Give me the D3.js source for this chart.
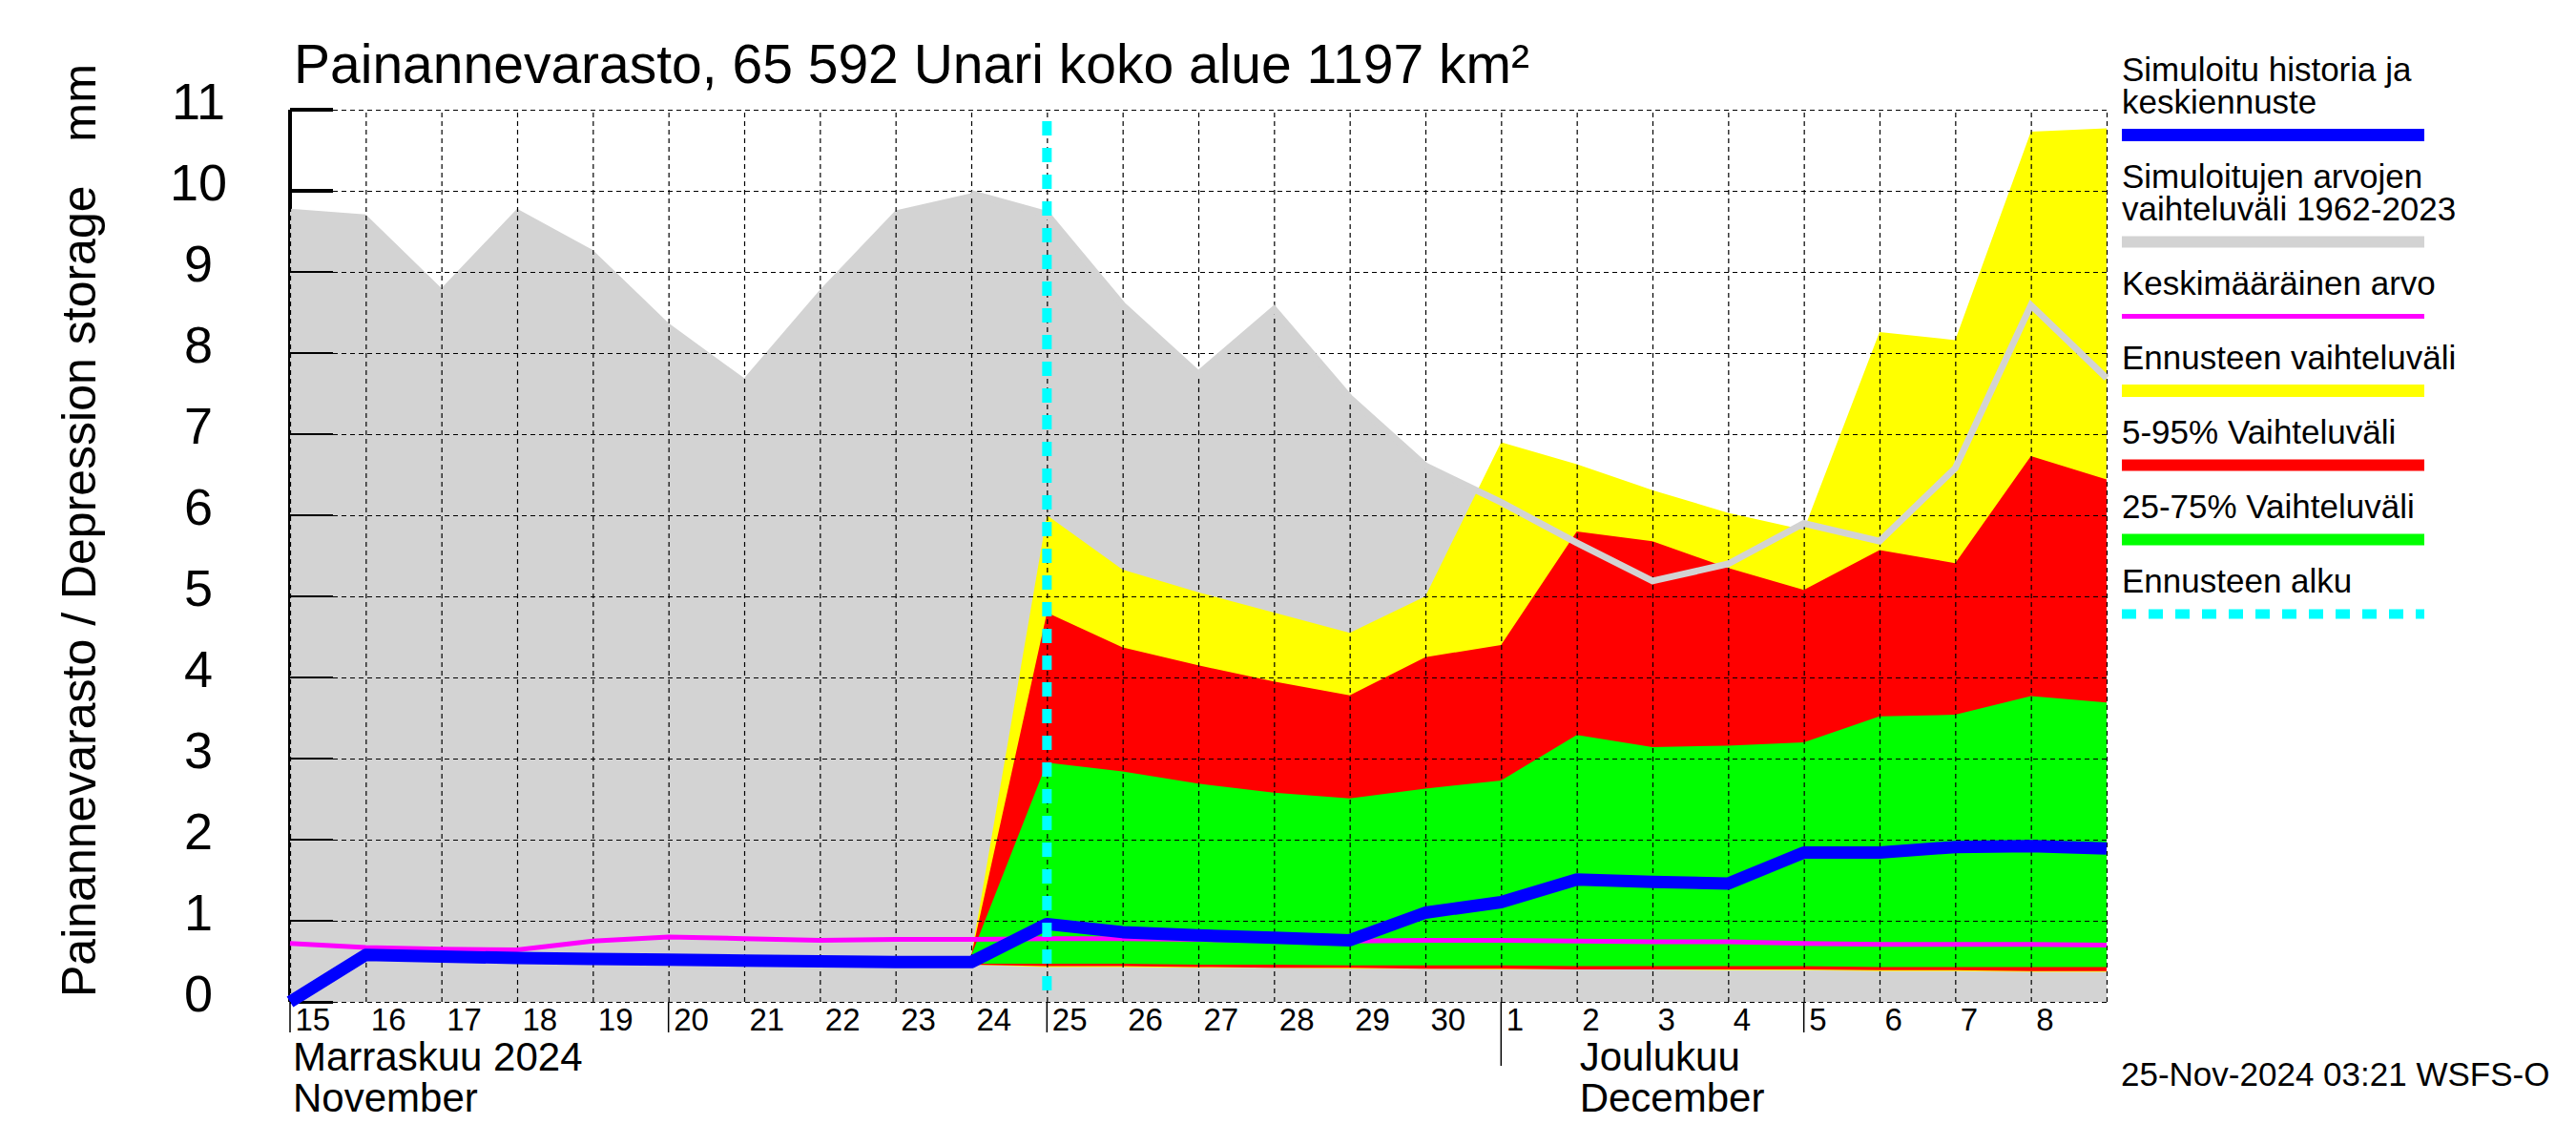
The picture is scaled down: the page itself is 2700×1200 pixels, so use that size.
<!DOCTYPE html>
<html>
<head>
<meta charset="utf-8">
<script src="https://cdn.jsdelivr.net/npm/d3@7"></script>
<style>
  body { margin: 0; background: #fff; }
  svg text { font-family: "Liberation Sans", Arial, Helvetica, sans-serif; fill: #000; }
</style>
</head>
<body>
<div id="chart"></div>
<script>
// one point per day at 00:00, 15 Nov .. 9 Dec 2024
const days = [
  '2024-11-15', '2024-11-16', '2024-11-17', '2024-11-18', '2024-11-19', '2024-11-20',
  '2024-11-21', '2024-11-22', '2024-11-23', '2024-11-24', '2024-11-25', '2024-11-26',
  '2024-11-27', '2024-11-28', '2024-11-29', '2024-11-30', '2024-12-01', '2024-12-02',
  '2024-12-03', '2024-12-04', '2024-12-05', '2024-12-06', '2024-12-07', '2024-12-08',
  '2024-12-09'
];

// simulated range 1962-2023 (grey)
const rangeMax = [9.78, 9.71, 8.80, 9.78, 9.27, 8.37, 7.69, 8.78, 9.76, 9.97, 9.71, 8.59, 7.74,
  8.54, 7.45, 6.61, 6.16, 5.66, 5.19, 5.40, 5.90, 5.68, 6.58, 8.59, 7.69];
const rangeMin = [0, 0, 0, 0, 0, 0, 0, 0, 0, 0, 0, 0, 0, 0, 0, 0, 0, 0, 0, 0, 0, 0, 0, 0, 0];

// simulated history + mean forecast (blue)
const simulated = [0.0, 0.58, 0.56, 0.54, 0.53, 0.52, 0.51, 0.50, 0.49, 0.49, 0.96, 0.86, 0.82,
  0.79, 0.76, 1.10, 1.23, 1.51, 1.48, 1.46, 1.84, 1.84, 1.91, 1.92, 1.89];

// long-term mean (magenta)
const meanValue = [0.72, 0.67, 0.65, 0.64, 0.75, 0.80, 0.78, 0.76, 0.77, 0.77, 0.78, 0.78, 0.77,
  0.76, 0.75, 0.76, 0.76, 0.75, 0.74, 0.74, 0.72, 0.71, 0.71, 0.71, 0.70];

// forecast fan, 24 Nov .. 9 Dec
const forecastStartIndex = 9;
const fcMax = [0.57, 6.00, 5.33, 5.05, 4.80, 4.55, 5.00, 6.90, 6.63, 6.31, 6.03, 5.82, 8.26, 8.16, 10.73, 10.77];
const fcMin = [0.46, 0.43, 0.43, 0.42, 0.42, 0.41, 0.41, 0.40, 0.40, 0.40, 0.39, 0.39, 0.38, 0.38, 0.37, 0.37];
const fc95 = [0.57, 4.80, 4.37, 4.15, 3.95, 3.78, 4.25, 4.40, 5.80, 5.68, 5.35, 5.08, 5.57, 5.41, 6.73, 6.44];
const fc05 = [0.46, 0.44, 0.44, 0.43, 0.42, 0.42, 0.41, 0.41, 0.40, 0.40, 0.40, 0.40, 0.39, 0.39, 0.38, 0.38];
const fc75 = [0.57, 2.95, 2.84, 2.69, 2.58, 2.51, 2.63, 2.73, 3.29, 3.14, 3.16, 3.20, 3.52, 3.54, 3.77, 3.69];
const fc25 = [0.47, 0.47, 0.47, 0.46, 0.46, 0.45, 0.45, 0.45, 0.44, 0.44, 0.44, 0.44, 0.43, 0.43, 0.43, 0.43];

const forecastStart = '2024-11-25';

const yTicks = [0, 1, 2, 3, 4, 5, 6, 7, 8, 9, 10, 11];
const dayLabelDays = days.slice(0, 24);
const midTickDays = ['2024-11-15', '2024-11-20', '2024-11-25', '2024-12-05'];
const monthStartDays = ['2024-12-01'];
const monthLabels = [
  { day: '2024-11-15', lines: ['Marraskuu 2024', 'November'] },
  { day: '2024-12-02', lines: ['Joulukuu', 'December'] }
];

const legendLabels = [
  ['Simuloitu historia ja', 'keskiennuste'],
  ['Simuloitujen arvojen', 'vaihteluväli 1962-2023'],
  ['Keskimääräinen arvo'],
  ['Ennusteen vaihteluväli'],
  ['5-95% Vaihteluväli'],
  ['25-75% Vaihteluväli'],
  ['Ennusteen alku']
];
const legendColors = ['#0000ff', '#d3d3d3', '#ff00ff', '#ffff00', '#ff0000', '#00ff00', '#00ffff'];
const legendWidths = [13, 12, 5, 13, 12, 12, 10];

const titleText = 'Painannevarasto, 65 592 Unari koko alue 1197 km²';
const yTitle = 'Painannevarasto / Depression storage';
const yUnit = 'mm';
const stamp = '25-Nov-2024 03:21 WSFS-O';

const width = 2700;
const height = 1200;
const parse = d3.utcParse('%Y-%m-%d');

const x = d3.scaleUtc()
  .domain([parse(days[0]), parse(days[days.length - 1])])
  .range([304, 2208]);
const y = d3.scaleLinear().domain([0, 11]).range([1050, 115]);

const svg = d3.select('#chart').append('svg')
  .attr('width', width)
  .attr('height', height);

svg.append('rect').attr('width', width).attr('height', height).attr('fill', '#fff');

const x0 = x.range()[0], x1 = x.range()[1];
const yTop = y(11), yBot = y(0);

// axis line and ticks, thick, partly hidden by the grey area
svg.append('line')
  .attr('x1', x0).attr('x2', x0).attr('y1', yTop).attr('y2', yBot)
  .attr('stroke', '#000').attr('stroke-width', 4);
svg.append('g').selectAll('line').data(yTicks).join('line')
  .attr('x1', x0).attr('x2', x0 + 45)
  .attr('y1', d => y(d)).attr('y2', d => y(d))
  .attr('stroke', '#000').attr('stroke-width', 4);

const rows = days.map((d, i) => ({ date: parse(d), hi: rangeMax[i], lo: rangeMin[i], sim: simulated[i], mean: meanValue[i] }));
const fcRows = days.slice(forecastStartIndex).map((d, i) => ({
  date: parse(d), max: fcMax[i], min: fcMin[i], p95: fc95[i], p05: fc05[i], p75: fc75[i], p25: fc25[i]
}));

const area = (lo, hi) => d3.area().x(d => x(d.date)).y0(d => y(d[lo])).y1(d => y(d[hi]));
const line = key => d3.line().x(d => x(d.date)).y(d => y(d[key]));

svg.append('path').datum(rows).attr('fill', '#d3d3d3').attr('d', area('lo', 'hi'));
svg.append('path').datum(fcRows).attr('fill', '#ffff00').attr('d', area('min', 'max'));
svg.append('path').datum(fcRows).attr('fill', '#ff0000').attr('d', area('p05', 'p95'));
svg.append('path').datum(fcRows).attr('fill', '#00ff00').attr('d', area('p25', 'p75'));

// grid
svg.append('g')
  .attr('transform', `translate(0,${yBot})`)
  .call(d3.axisBottom(x).ticks(d3.utcDay.every(1)).tickSize(-(yBot - yTop)).tickFormat(''))
  .call(g => g.select('.domain').remove())
  .call(g => g.selectAll('line').attr('stroke', '#000').attr('stroke-width', 1.2).attr('stroke-dasharray', '5,4'));
svg.append('g')
  .attr('transform', `translate(${x0},0)`)
  .call(d3.axisLeft(y).tickValues(yTicks).tickSize(-(x1 - x0)).tickFormat(''))
  .call(g => g.select('.domain').remove())
  .call(g => g.selectAll('line').attr('stroke', '#000').attr('stroke-width', 1.2).attr('stroke-dasharray', '5,4'));

// thin solid ticks on top
svg.append('g').selectAll('line').data(yTicks).join('line')
  .attr('x1', x0).attr('x2', x0 + 45)
  .attr('y1', d => y(d)).attr('y2', d => y(d))
  .attr('stroke', '#000').attr('stroke-width', 2);
svg.append('line')
  .attr('x1', x0 - 1).attr('x2', x0 - 1).attr('y1', yTop).attr('y2', yBot)
  .attr('stroke', '#000').attr('stroke-width', 2);

// grey max line over the forecast fan
svg.append('path').datum(rows.slice(forecastStartIndex))
  .attr('fill', 'none').attr('stroke', '#d3d3d3').attr('stroke-width', 7)
  .attr('d', line('hi'));

svg.append('path').datum(rows)
  .attr('fill', 'none').attr('stroke', '#ff00ff').attr('stroke-width', 5)
  .attr('d', line('mean'));

svg.append('path').datum(rows)
  .attr('fill', 'none').attr('stroke', '#0000ff').attr('stroke-width', 13)
  .attr('stroke-linejoin', 'round')
  .attr('d', line('sim'));

svg.append('line')
  .attr('x1', x(parse(forecastStart))).attr('x2', x(parse(forecastStart)))
  .attr('y1', yTop + 12).attr('y2', yBot)
  .attr('stroke', '#00ffff').attr('stroke-width', 10).attr('stroke-dasharray', '15,13');

// y labels
svg.append('g')
  .attr('transform', `translate(${x0},0)`)
  .call(d3.axisLeft(y).tickValues(yTicks).tickSize(0).tickFormat(d3.format('d')))
  .call(g => g.select('.domain').remove())
  .call(g => g.selectAll('text')
    .attr('x', 208 - x0).attr('dy', 9).attr('text-anchor', 'middle')
    .style('font-size', '54px').style('font-family', '"Liberation Sans", Arial, sans-serif'));

// x labels
svg.append('g')
  .attr('transform', `translate(0,${yBot})`)
  .call(d3.axisBottom(x).tickValues(dayLabelDays.map(parse)).tickSize(0).tickFormat(d3.utcFormat('%-d')))
  .call(g => g.select('.domain').remove())
  .call(g => g.selectAll('text')
    .attr('x', 5).attr('y', 30).attr('dy', 0).attr('text-anchor', 'start')
    .style('font-size', '33px').style('font-family', '"Liberation Sans", Arial, sans-serif'));

svg.append('g').selectAll('line').data(midTickDays).join('line')
  .attr('x1', d => x(parse(d))).attr('x2', d => x(parse(d)))
  .attr('y1', yBot).attr('y2', yBot + 32)
  .attr('stroke', '#000').attr('stroke-width', 1.5);
svg.append('g').selectAll('line').data(monthStartDays).join('line')
  .attr('x1', d => x(parse(d))).attr('x2', d => x(parse(d)))
  .attr('y1', yBot).attr('y2', yBot + 67)
  .attr('stroke', '#000').attr('stroke-width', 1.5);

monthLabels.forEach(m => {
  m.lines.forEach((t, k) => {
    svg.append('text')
      .attr('x', x(parse(m.day)) + 3).attr('y', 1122 + k * 43)
      .style('font-size', '42px').text(t);
  });
});

// titles
svg.append('text').attr('x', 308).attr('y', 87).style('font-size', '57px').text(titleText);
svg.append('text')
  .attr('transform', 'translate(100,1045) rotate(-90)')
  .style('font-size', '50px').text(yTitle);
svg.append('text')
  .attr('transform', 'translate(100,67) rotate(-90)')
  .attr('text-anchor', 'end')
  .style('font-size', '49px').text(yUnit);

// legend
let ly = 141.5;
legendLabels.forEach((lines, i) => {
  if (i > 0) ly += 78 + 34 * (lines.length - 1);
  lines.forEach((t, k) => {
    svg.append('text')
      .attr('x', 2224).attr('y', ly - 23 - 34 * (lines.length - 1 - k))
      .style('font-size', '35px').text(t);
  });
  svg.append('line')
    .attr('x1', 2224).attr('x2', 2541).attr('y1', ly).attr('y2', ly)
    .attr('stroke', legendColors[i]).attr('stroke-width', legendWidths[i])
    .attr('stroke-dasharray', i === legendLabels.length - 1 ? '15,13' : null);
});

svg.append('text').attr('x', 2223).attr('y', 1138).style('font-size', '35px').text(stamp);
</script>
</body>
</html>
